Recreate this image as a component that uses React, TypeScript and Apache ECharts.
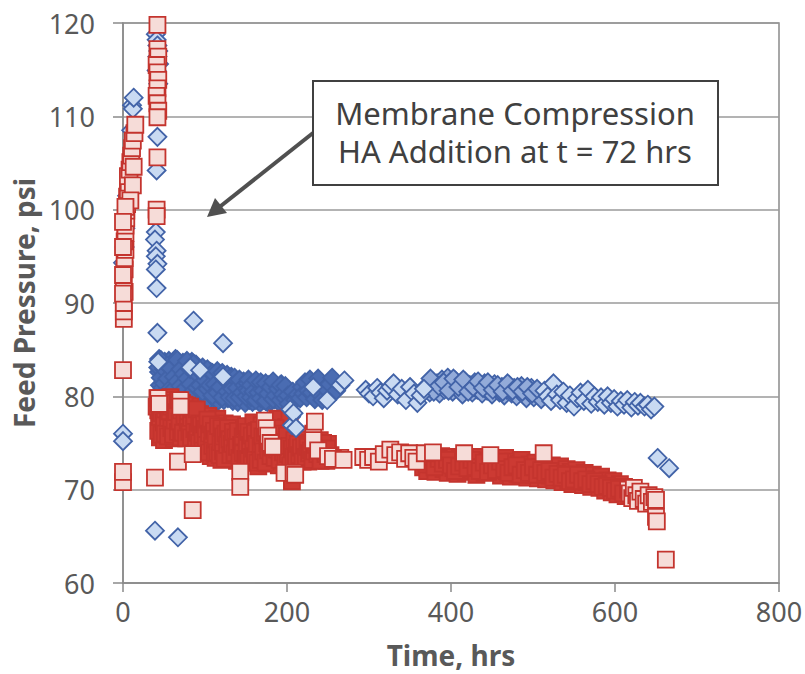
import React, { useEffect, useRef } from "react";
import * as echarts from "echarts";

const xTicks = { min: 0, max: 800, interval: 200 };
const yTicks = { min: 60, max: 120, interval: 10 };
const xTitle = "Time, hrs";
const yTitle = "Feed Pressure, psi";
const noteLines = ["Membrane Compression", "HA Addition at t = 72 hrs"];

// Series A (blue diamonds), [time hrs, pressure psi] — sparse / individually visible readings
const blueSparse: number[][] = [
  [0, 76.0], [0, 75.2], [0, 94.3], [2, 96.0], [3, 98.0], [5, 101.5], [8, 104.0], [10, 108.5], [11, 111.2], [12, 110.8], [13, 112.0],
  [40, 118.8], [41, 118.2], [42, 117.6], [43, 117.0], [42, 116.4], [44, 115.6], [41, 114.9], [43, 113.5], [42, 107.8], [41, 104.2],
  [40, 97.6], [39, 96.8], [41, 95.6], [40, 95.0], [42, 94.2], [40, 93.6], [41, 91.6], [42, 86.8],
  [39, 65.6], [67, 64.9], [86, 88.1], [122, 85.7],
  [43, 83.7], [82, 83.1], [94, 82.8], [122, 82.1], [204, 78.6], [206, 76.9], [208, 78.2], [211, 76.6], [232, 81.0], [249, 79.6], [265, 81.2], [270, 81.7],
  [296, 80.7], [300, 80.3], [305, 80.0], [310, 80.9], [314, 80.4], [318, 79.8], [322, 80.6], [326, 81.0], [330, 81.4], [335, 80.2], [340, 80.8],
  [345, 79.6], [350, 81.0], [355, 80.3], [359, 79.3], [363, 80.1], [367, 80.8],
  [514, 80.6], [518, 80.0],
  [522, 79.5], [525, 81.4], [529, 80.2], [533, 79.6], [537, 80.5], [541, 79.3], [545, 80.1], [550, 78.9], [554, 79.8], [558, 80.4], [562, 79.5],
  [567, 80.7], [571, 79.2], [575, 80.0], [579, 79.4], [583, 79.9], [587, 79.1], [591, 80.0], [595, 79.3], [599, 79.7], [603, 78.9], [607, 79.5],
  [611, 79.1], [615, 79.6], [620, 78.8], [624, 79.4], [628, 79.0], [631, 79.3], [636, 78.9], [640, 79.1], [644, 78.6], [648, 78.9],
  [652, 73.4], [666, 72.3],
];

// Series A (blue diamonds) — moderately overlapping readings, 370–510 hrs
const blueMid: number[][] = [
  [371, 81.2], [374, 80.4], [377, 81.6], [380, 80.9], [383, 81.4],
  [386, 80.3], [389, 81.8], [392, 80.7], [396, 82.0], [399, 81.1], [402, 80.5], [405, 81.7], [408, 80.9], [411, 81.3], [414, 80.2], [417, 81.6],
  [420, 80.8], [423, 81.2], [426, 80.4], [429, 81.5], [432, 80.7], [435, 81.0], [438, 80.3], [441, 81.4], [444, 80.6], [447, 81.1], [450, 80.2],
  [453, 81.3], [456, 80.8], [459, 80.4], [462, 81.0], [465, 80.1], [468, 80.7], [471, 81.2], [474, 80.3], [477, 80.9], [480, 80.0], [483, 80.6],
  [486, 81.1], [489, 80.2], [492, 79.8], [495, 80.5], [498, 80.9], [501, 79.9], [504, 80.4], [507, 80.1], [510, 79.7],
  [369, 81.0], [375, 81.9], [379, 80.5], [385, 81.1], [391, 81.5], [397, 80.6], [403, 81.9], [409, 81.0], [415, 81.8], [421, 80.5], [427, 81.0],
  [433, 81.6], [439, 80.9], [445, 81.5], [451, 80.7], [457, 81.2], [463, 80.5], [469, 81.4], [475, 80.6], [481, 81.0], [487, 80.5], [493, 81.0],
  [499, 80.3], [505, 80.8],
];

// Series A (blue diamonds) — densely overlapping readings, 40–260 hrs
const blueDense: number[][] = [
  [44, 84.0], [44, 82.6], [45, 81.2], [47, 83.4], [48, 80.9], [49, 82.1], [51, 83.7], [52, 81.5], [53, 80.6], [55, 82.9], [56, 83.8], [57, 81.0],
  [59, 82.3], [60, 80.7], [61, 83.2], [63, 81.8], [64, 84.0], [65, 80.8], [67, 82.6], [68, 83.5], [69, 81.3], [71, 80.6], [72, 82.0], [73, 83.6],
  [75, 81.5], [76, 82.8], [77, 80.9], [79, 83.3], [80, 81.7], [81, 80.5], [83, 82.5], [84, 83.7], [85, 81.1], [87, 82.2], [88, 80.8], [89, 83.4],
  [91, 81.6], [92, 83.0], [93, 80.3], [95, 82.1], [96, 79.9], [98, 82.9], [99, 81.0], [101, 80.0], [102, 82.4], [104, 81.4], [105, 79.6], [107, 82.6],
  [108, 80.6], [110, 81.8], [111, 79.8], [113, 82.2], [114, 80.9], [116, 79.5], [117, 81.6], [119, 82.3], [120, 80.2], [122, 81.1], [123, 79.6],
  [125, 82.0], [126, 80.7], [128, 79.8], [129, 81.5], [131, 80.3], [132, 82.1], [134, 79.5], [135, 81.0], [137, 80.0], [138, 81.7], [140, 79.4],
  [141, 80.8], [143, 81.4], [144, 79.7], [146, 80.5], [147, 81.6], [149, 79.3],
  [43, 83.1], [46, 82.0], [46, 83.9], [50, 81.4], [50, 82.9], [54, 83.3], [54, 81.9], [58, 80.9], [58, 83.0], [62, 82.1], [62, 80.8], [66, 83.9],
  [66, 81.6], [70, 82.9], [70, 81.1], [74, 80.7], [74, 82.4], [78, 81.9], [78, 83.8], [82, 81.3], [82, 82.9], [86, 80.6], [86, 83.5], [90, 82.4],
  [90, 80.9], [94, 81.2], [94, 82.7], [97, 80.5], [97, 83.1], [100, 81.7], [103, 80.8], [103, 82.9], [106, 81.2], [109, 82.5], [109, 80.1],
  [112, 81.3], [115, 82.7], [115, 80.4], [118, 81.0], [121, 82.5], [121, 79.9], [124, 81.8], [127, 80.5], [127, 82.3], [130, 79.9], [130, 81.9],
  [133, 80.8], [136, 82.0], [136, 79.8], [139, 80.9], [142, 79.9], [142, 81.8], [145, 80.4], [148, 81.2],
  [151, 80.8], [152, 81.4], [154, 79.6], [155, 80.3], [157, 81.1], [158, 79.4], [160, 80.6], [161, 81.5], [163, 79.8], [164, 80.2], [166, 81.0],
  [167, 79.3], [169, 80.7], [170, 81.3], [172, 79.6], [173, 80.1], [175, 80.9], [176, 79.4], [178, 81.2], [179, 80.4], [181, 79.5], [182, 80.8],
  [184, 81.4], [185, 79.7], [187, 80.3], [188, 81.0], [190, 79.4], [191, 80.6], [193, 81.3], [194, 79.9], [196, 80.5], [197, 79.3], [199, 80.9],
  [150, 80.0], [153, 80.6], [153, 81.8], [156, 79.9], [156, 81.2], [159, 80.5], [162, 79.6], [162, 81.7], [165, 80.4], [168, 81.5], [168, 79.8],
  [171, 80.6], [174, 79.5], [174, 81.4], [177, 80.3], [180, 81.0], [183, 79.7], [183, 81.6], [186, 80.1], [189, 80.8], [192, 79.6], [192, 81.2],
  [195, 80.2], [198, 79.8], [198, 81.1],
  [201, 80.1], [202, 79.2], [205, 77.8], [207, 80.5], [210, 79.6], [213, 80.2],
  [216, 79.8], [218, 81.0], [220, 80.3], [222, 81.5], [224, 79.9], [226, 80.6], [228, 81.8], [230, 80.4], [234, 79.7], [236, 80.8],
  [238, 81.9], [240, 80.2], [243, 79.6], [246, 80.9], [252, 81.3], [255, 82.0], [260, 80.6],
];

// Series B (red squares) — sparse / individually visible readings
const redSparse: number[][] = [
  [0, 70.8], [0, 71.9], [0, 82.8], [1, 88.3], [1, 89.1], [1, 90.0], [2, 91.2], [1, 92.4], [2, 93.6], [2, 94.8], [3, 95.7], [2, 96.6], [3, 97.5],
  [3, 98.3], [4, 99.1], [4, 99.9], [5, 100.6], [5, 101.4], [6, 102.1], [7, 102.9], [6, 103.6], [8, 104.3], [9, 105.1], [10, 105.8], [11, 106.6],
  [12, 107.4], [14, 108.2], [15, 109.1], [13, 104.6], [12, 102.6], [9, 101.0], [3, 100.3], [0, 98.7], [0, 96.0], [0, 93.0], [0, 91.0],
  [42, 119.8], [42, 117.2], [43, 116.4], [41, 115.5], [42, 114.7], [43, 113.9], [42, 113.0], [41, 112.2], [42, 111.4], [43, 110.6], [42, 109.9],
  [42, 105.6], [41, 100.0], [41, 99.3], [39, 71.3],
  [67, 73.0], [85, 73.8], [85, 67.8], [143, 71.9], [143, 70.3], [265, 73.4],
  [43, 79.8], [44, 79.2], [70, 79.6], [70, 78.9], [173, 77.4], [175, 76.6], [177, 75.8], [180, 75.0], [183, 74.6], [197, 71.8], [208, 71.8],
  [210, 71.6], [232, 76.0], [232, 75.3], [234, 77.3], [238, 74.2], [250, 73.6], [256, 73.3],
  [269, 73.2], [293, 73.5], [299, 73.2], [305, 73.5], [312, 73.0], [318, 73.8], [326, 74.3], [332, 73.7], [338, 74.0], [344, 73.3], [349, 73.9],
  [354, 73.4], [358, 73.0], [368, 73.9], [378, 74.0], [416, 73.9], [448, 73.7], [513, 73.9],
  [616, 70.0], [618, 69.6], [621, 69.1], [623, 70.2], [626, 69.4], [628, 68.8], [631, 69.8],
  [635, 69.0], [638, 68.5], [641, 69.4], [645, 68.7], [648, 69.2], [650, 68.9], [650, 67.1], [651, 66.6], [662, 62.5],
];

// Series B (red squares) — densely overlapping readings
const redDense: number[][] = [
  [42, 79.8], [43, 78.5], [44, 77.1], [45, 75.6], [46, 79.2], [48, 76.6], [49, 78.0], [50, 75.3], [52, 79.5], [53, 77.4], [54, 76.1], [56, 78.7],
  [57, 75.8], [58, 79.9], [60, 77.0], [61, 78.3], [62, 75.5], [64, 79.1], [65, 76.8], [66, 77.9], [68, 75.9], [69, 78.8], [70, 76.4], [72, 79.3],
  [73, 77.6], [74, 75.6], [76, 78.1], [77, 76.7], [78, 79.0], [80, 75.8], [81, 77.8], [82, 78.9], [84, 76.2], [85, 77.3], [86, 75.4], [88, 78.4],
  [89, 76.9], [91, 77.5], [92, 75.2], [94, 78.1], [95, 74.6], [96, 76.3], [98, 77.7], [99, 75.0], [100, 73.9], [102, 76.9], [103, 74.4], [104, 77.9],
  [106, 75.6], [107, 73.6], [108, 76.6], [110, 77.3], [111, 74.8], [113, 73.4], [114, 76.1], [115, 77.6], [117, 74.2], [118, 75.8], [120, 73.2],
  [121, 76.8], [123, 74.6], [124, 77.1], [126, 75.3], [127, 73.5], [129, 76.4], [130, 74.0], [132, 75.9], [133, 77.0], [135, 73.3], [136, 74.9],
  [138, 76.2], [139, 73.1], [141, 75.5], [142, 74.3], [144, 76.6], [145, 73.6], [147, 75.1], [148, 74.5],
  [41, 78.9], [43, 76.3], [44, 79.4], [45, 77.8], [47, 78.2], [47, 75.9], [48, 79.6], [50, 77.2], [51, 78.6], [51, 76.0], [53, 79.1], [55, 77.7],
  [55, 75.7], [57, 78.4], [59, 76.6], [59, 78.9], [61, 75.9], [63, 77.4], [63, 79.3], [65, 78.3], [67, 76.2], [67, 79.6], [69, 77.3], [71, 78.5],
  [71, 75.6], [73, 76.1], [75, 77.9], [75, 79.1], [77, 75.5], [79, 77.4], [79, 78.4], [81, 76.2], [83, 77.7], [83, 75.6], [85, 78.6], [87, 76.5],
  [87, 77.9], [89, 75.3], [90, 78.6], [91, 76.1], [93, 77.1], [93, 75.0], [95, 76.9], [97, 74.3], [97, 75.9], [99, 77.0], [101, 75.2], [101, 76.5],
  [103, 77.5], [105, 74.0], [105, 76.0], [107, 77.0], [109, 74.7], [109, 75.9], [111, 76.3], [112, 73.9], [113, 75.4], [115, 74.0], [116, 76.8],
  [118, 73.7], [119, 75.1], [120, 76.6], [122, 74.1], [122, 75.7], [124, 73.3], [125, 76.0], [127, 74.8], [128, 76.6], [130, 75.4], [131, 73.7],
  [133, 74.9], [134, 76.2], [136, 73.9], [137, 75.6], [139, 74.6], [140, 76.3], [142, 73.4], [144, 74.8], [146, 75.7], [146, 73.9], [148, 76.5],
  [149, 73.3],
  [150, 76.8], [151, 73.7], [152, 75.4], [154, 74.2], [155, 76.1], [156, 72.9], [158, 75.0], [159, 77.2], [160, 73.8], [162, 74.7], [163, 76.3],
  [165, 72.5], [166, 75.6], [167, 74.0], [169, 76.9], [170, 73.3], [172, 75.2], [173, 74.4], [175, 76.5], [176, 72.8], [178, 75.8], [179, 73.9],
  [181, 74.8], [182, 77.0], [184, 73.1], [185, 75.5], [187, 74.1], [188, 77.6], [190, 72.6], [191, 76.2], [193, 74.6], [194, 73.4], [196, 75.9],
  [199, 76.7], [200, 74.3], [202, 72.2], [203, 77.8], [205, 73.6], [206, 70.9], [207, 75.7], [209, 72.9],
  [151, 75.0], [153, 76.2], [153, 73.1], [155, 74.8], [157, 75.8], [157, 73.5], [159, 74.4], [161, 76.1], [161, 73.6], [163, 74.9], [164, 72.9],
  [166, 76.4], [168, 74.6], [168, 73.2], [170, 75.7], [171, 74.1], [173, 76.1], [174, 72.9], [176, 75.0], [177, 74.2], [179, 76.2], [180, 73.6],
  [182, 74.5], [183, 75.8], [185, 73.4], [186, 76.6], [188, 74.3], [189, 75.2], [191, 73.2], [192, 74.8], [194, 76.0], [195, 74.0], [197, 75.1],
  [198, 73.0], [200, 75.8], [201, 73.8], [203, 74.7], [204, 72.6], [206, 74.4], [208, 73.5], [209, 75.3],
  [212, 74.5], [214, 73.2], [216, 75.1], [218, 74.0], [220, 73.4], [222, 75.4], [224, 74.3], [226, 73.0], [228, 75.0], [230, 73.8], [232, 74.7],
  [236, 73.3], [240, 75.3], [242, 73.6], [245, 74.4], [248, 73.1], [250, 74.9], [253, 73.7],
  [211, 73.4], [213, 74.9], [215, 73.7], [217, 74.5], [219, 73.0], [221, 74.8], [223, 73.5], [225, 74.6], [227, 73.9], [229, 74.2], [231, 73.2],
  [233, 74.1], [235, 74.8], [237, 73.8], [239, 74.6], [241, 73.1], [244, 75.0], [247, 73.8], [249, 74.4],
  [363, 73.6], [366, 72.4], [371, 72.0], [373, 73.2], [376, 72.7], [381, 71.9], [383, 73.1],
  [386, 72.5], [388, 73.6], [391, 72.2], [393, 73.4], [396, 71.8], [398, 72.9], [401, 73.5], [403, 72.3], [406, 73.0], [408, 71.7], [411, 73.3],
  [413, 72.6], [418, 71.9], [421, 72.8], [423, 73.4], [426, 72.1], [428, 73.0], [431, 71.6], [433, 72.7], [436, 73.5], [438, 72.4],
  [441, 71.8], [443, 73.1], [446, 72.5], [451, 71.9], [453, 72.8], [456, 73.3], [458, 72.2], [461, 71.5], [463, 72.9], [466, 73.4],
  [468, 72.0], [471, 72.6], [473, 71.4], [476, 73.0], [478, 72.3], [481, 71.7], [483, 72.8], [486, 73.2], [488, 71.9], [491, 72.5], [493, 71.3],
  [496, 72.7], [498, 72.1], [501, 71.6], [503, 72.9], [506, 71.2], [508, 72.4], [511, 71.8], [516, 71.1], [518, 72.2], [521, 71.5],
  [523, 72.6], [526, 71.0], [528, 72.0], [531, 71.4], [533, 72.5], [536, 70.8], [538, 71.7], [541, 72.2], [543, 71.0], [546, 71.9], [548, 70.6],
  [551, 71.5], [553, 72.1], [556, 70.9], [558, 71.4], [561, 70.5], [563, 71.8], [566, 70.8], [568, 71.3], [571, 70.3], [573, 71.6], [576, 70.7],
  [578, 71.1], [581, 70.2], [583, 71.4], [586, 70.6], [588, 69.9], [591, 71.0], [593, 70.4], [596, 69.7], [598, 70.9], [601, 70.1], [603, 69.5],
  [606, 70.6], [608, 69.9], [611, 70.3], [613, 69.3],
  [365, 73.1], [370, 72.7], [375, 73.5], [380, 72.4], [385, 73.3], [390, 72.8], [395, 73.2], [400, 72.6], [405, 72.0], [410, 72.5], [415, 72.9],
  [420, 72.3], [425, 73.2], [430, 72.4], [435, 72.0], [440, 72.9], [445, 71.9], [450, 72.6], [455, 72.1], [460, 73.0], [465, 72.2], [470, 71.8],
  [475, 72.4], [480, 72.6], [485, 71.6], [490, 72.1], [495, 71.8], [500, 72.4], [505, 71.6], [510, 72.1], [515, 71.8], [520, 72.0], [525, 71.3],
  [530, 71.7], [535, 71.3], [540, 71.6], [545, 70.9], [550, 71.1], [555, 71.6], [560, 70.9], [565, 71.1], [570, 70.6], [575, 70.9], [580, 70.6],
  [585, 70.3], [590, 70.4], [595, 70.2], [600, 69.9], [605, 70.1], [610, 69.6],
];

export default function App() {
  const ref = useRef<HTMLDivElement>(null);
  useEffect(() => {
    if (!ref.current) return;
    const chart = echarts.init(ref.current, null, { renderer: "svg" });
    const font = "'Noto Sans', 'Open Sans', sans-serif";
    const labelColor = "#595959";
    const blueEdge = "#4263a8";
    const redEdge = "#c4342e";
    chart.setOption({
      animation: false,
      backgroundColor: "#ffffff",
      grid: {
        left: 123, right: 26, top: 23, bottom: 91,
        show: true, borderColor: "#8a8a8a", borderWidth: 1.5,
        outerBoundsMode: "none",
      },
      xAxis: {
        type: "value", ...xTicks,
        name: xTitle, nameLocation: "middle", nameGap: 58,
        nameTextStyle: { fontFamily: font, fontWeight: "bold", fontSize: 28, color: labelColor },
        axisLine: { show: true, lineStyle: { color: "#8a8a8a", width: 1.5 } },
        axisTick: { show: true, inside: false, length: 9, lineStyle: { color: "#8a8a8a", width: 1.5 } },
        axisLabel: { fontFamily: font, fontSize: 27, color: labelColor, margin: 15 },
        splitLine: { show: false },
      },
      yAxis: {
        type: "value", ...yTicks,
        name: yTitle, nameLocation: "middle", nameGap: 84,
        nameTextStyle: { fontFamily: font, fontWeight: "bold", fontSize: 28, color: labelColor },
        axisLine: { show: true, lineStyle: { color: "#8a8a8a", width: 1.5 } },
        axisTick: { show: true, inside: false, length: 10, lineStyle: { color: "#8a8a8a", width: 1.5 } },
        axisLabel: { fontFamily: font, fontSize: 27, color: labelColor, margin: 28 },
        splitLine: { show: true, lineStyle: { color: "#9a9a9a", width: 1.5 } },
      },
      series: [
        {
          type: "scatter", name: "A", data: blueDense,
          symbol: "diamond", symbolSize: 18,
          itemStyle: { color: "#4a6cb2", borderColor: blueEdge, borderWidth: 1.8, opacity: 1 },
          clip: false,
        },
        {
          type: "scatter", name: "A2", data: blueMid,
          symbol: "diamond", symbolSize: 18,
          itemStyle: { color: "#93abd9", borderColor: blueEdge, borderWidth: 1.8, opacity: 1 },
          clip: false,
        },
        {
          type: "scatter", name: "B", data: redDense,
          symbol: "rect", symbolSize: 16,
          itemStyle: { color: "#cc3a33", borderColor: redEdge, borderWidth: 1.8, opacity: 1 },
          clip: false,
        },
        {
          type: "scatter", name: "A3", data: blueSparse,
          symbol: "diamond", symbolSize: 18,
          itemStyle: { color: "#c9daf2", borderColor: blueEdge, borderWidth: 1.8, opacity: 1 },
          clip: false,
        },
        {
          type: "scatter", name: "B2", data: redSparse,
          symbol: "rect", symbolSize: 16,
          itemStyle: { color: "#f6dcd8", borderColor: redEdge, borderWidth: 1.8, opacity: 1 },
          clip: false,
        },
      ],
      graphic: [
        {
          type: "line", z: 100,
          shape: { x1: 313, y1: 133, x2: 217, y2: 209 },
          style: { stroke: "#505050", lineWidth: 4 },
        },
        {
          type: "polygon", z: 100,
          shape: { points: [[207, 217], [227, 213], [215, 198]] },
          style: { fill: "#505050" },
        },
        {
          type: "rect", z: 100,
          shape: { x: 313, y: 81, width: 405, height: 104 },
          style: { fill: "#ffffff", stroke: "#404040", lineWidth: 2 },
        },
        {
          type: "text", z: 101, x: 515, y: 113,
          style: { text: noteLines[0], fontFamily: font, fontSize: 31, fill: "#404040", textAlign: "center", textVerticalAlign: "middle" },
        },
        {
          type: "text", z: 101, x: 515, y: 151,
          style: { text: noteLines[1], fontFamily: font, fontSize: 31, fill: "#404040", textAlign: "center", textVerticalAlign: "middle" },
        },
      ],
    });
    return () => chart.dispose();
  }, []);
  return <div ref={ref} style={{ position: "fixed", left: 0, top: 0, width: 805, height: 674 }} />;
}
